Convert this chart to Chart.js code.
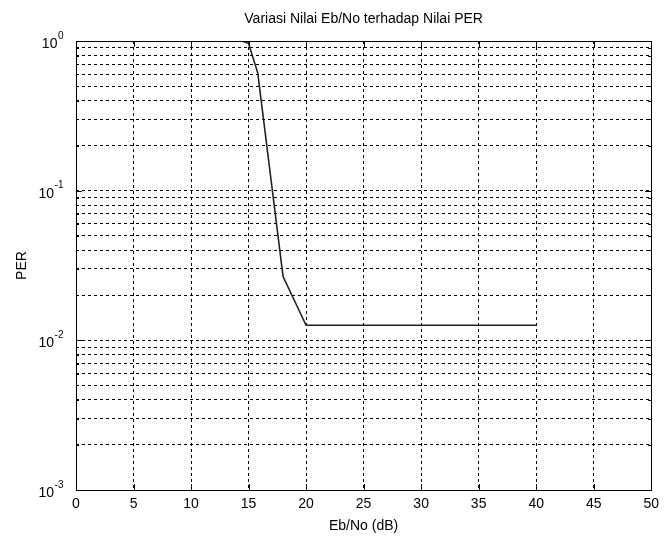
<!DOCTYPE html>
<html>
<head>
<meta charset="utf-8">
<script src="https://cdn.jsdelivr.net/npm/chart.js@4.4.1/dist/chart.umd.min.js"></script>
<style>
  html, body { margin: 0; padding: 0; background: #fff; }
  canvas { display: block; }
</style>
</head>
<body>
<canvas id="perChart" width="665" height="537"></canvas>
<script>
// Eb/No (dB) and PER values
var ebno = [14.4, 15, 15.8, 18, 20, 40];
var per = [1, 0.965, 0.61, 0.0267, 0.0126, 0.0126];

// x grid / tick positions
var xTicks = [0, 5, 10, 15, 20, 25, 30, 35, 40, 45, 50];

// y grid lines (every 1..9 per decade) and the labelled decades
var yGrid = [];
[0.001, 0.01, 0.1].forEach(function (d) {
  for (var k = 1; k < 10; k++) yGrid.push(+(d * k).toPrecision(3));
});
yGrid.push(1);
var yMajor = [1, 0.1, 0.01, 0.001];
var yMajorExp = ['0', '-1', '-2', '-3'];

var titleText = 'Variasi Nilai Eb/No terhadap Nilai PER';
var FONT = "'Liberation Sans', Arial, Helvetica, sans-serif";

// draws the box, inward tick marks, the 10^n labels and the title
var matlabAxes = {
  id: 'matlabAxes',
  afterDraw: function (chart) {
    var ctx = chart.ctx;
    var a = chart.chartArea;
    var xs = chart.scales.x, ys = chart.scales.y;
    ctx.save();
    ctx.strokeStyle = '#000';
    ctx.lineWidth = 1;
    ctx.setLineDash([]);
    ctx.strokeRect(Math.round(a.left) + 0.5, Math.round(a.top) + 0.5,
      Math.round(a.right - a.left), Math.round(a.bottom - a.top));

    ctx.beginPath();
    xTicks.forEach(function (v) {
      var px = Math.round(xs.getPixelForValue(v)) + 0.5;
      ctx.moveTo(px, a.bottom); ctx.lineTo(px, a.bottom - 6);
      ctx.moveTo(px, a.top); ctx.lineTo(px, a.top + 6);
    });
    yGrid.forEach(function (v) {
      var py = Math.round(ys.getPixelForValue(v)) + 0.5;
      var len = yMajor.indexOf(v) >= 0 ? 6 : 3;
      ctx.moveTo(a.left, py); ctx.lineTo(a.left + len, py);
      ctx.moveTo(a.right, py); ctx.lineTo(a.right - len, py);
    });
    ctx.stroke();

    ctx.fillStyle = '#000';
    ctx.textBaseline = 'middle';
    yMajor.forEach(function (v, i) {
      var py = ys.getPixelForValue(v);
      var e = yMajorExp[i];
      ctx.font = '10px ' + FONT;
      var ew = ctx.measureText(e).width;
      ctx.font = '14px ' + FONT;
      var bw = ctx.measureText('10').width;
      var x0 = a.left - 13 - ew - bw;
      ctx.textAlign = 'left';
      ctx.fillText('10', x0, py + 3);
      ctx.font = '10px ' + FONT;
      ctx.fillText(e, x0 + bw + 0.5, py - 5);
    });

    ctx.font = '14px ' + FONT;
    ctx.textAlign = 'center';
    ctx.fillText(titleText, (a.left + a.right) / 2, 19);
    ctx.restore();
  }
};

var ctx = document.getElementById('perChart').getContext('2d');
new Chart(ctx, {
  type: 'line',
  data: {
    datasets: [{
      data: ebno.map(function (x, i) { return { x: x, y: per[i] }; }),
      borderColor: '#222',
      borderWidth: 1.6,
      pointRadius: 0,
      fill: false,
      tension: 0
    }]
  },
  options: {
    responsive: false,
    animation: false,
    events: [],
    layout: { padding: { left: 0, right: 8, top: 41, bottom: 0 } },
    plugins: {
      legend: { display: false },
      tooltip: { enabled: false },
      title: { display: false }
    },
    scales: {
      x: {
        type: 'linear',
        min: 0,
        max: 50,
        afterBuildTicks: function (s) { s.ticks = xTicks.map(function (v) { return { value: v }; }); },
        afterFit: function (s) { s.height = 47; },
        grid: { color: '#000', lineWidth: 1, drawTicks: false },
        border: { display: false, dash: [3, 3] },
        ticks: { color: '#000', padding: 6, font: { family: FONT, size: 14 }, maxRotation: 0, autoSkip: false },
        title: {
          display: true, text: 'Eb/No (dB)', color: '#000',
          font: { family: FONT, size: 14 }, padding: { top: 0, bottom: 2 }
        }
      },
      y: {
        type: 'logarithmic',
        min: 0.001,
        max: 1,
        afterBuildTicks: function (s) { s.ticks = yGrid.map(function (v) { return { value: v }; }); },
        afterFit: function (s) { s.width = 76; },
        grid: { color: '#000', lineWidth: 1, drawTicks: false },
        border: { display: false, dash: [3, 3] },
        ticks: { display: false },
        title: {
          display: true, text: 'PER', color: '#000',
          font: { family: FONT, size: 14 }, padding: { top: 14, bottom: 0 }
        }
      }
    }
  },
  plugins: [matlabAxes]
});
</script>
</body>
</html>
